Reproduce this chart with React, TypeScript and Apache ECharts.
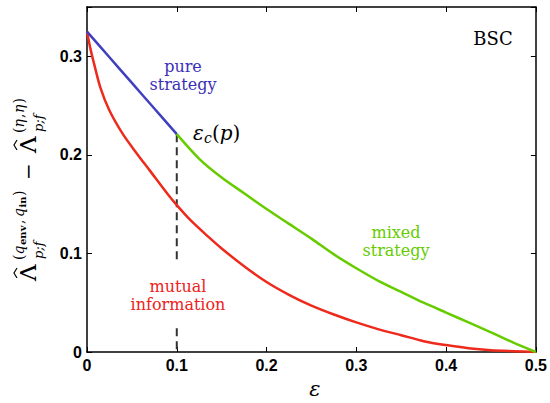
import React, { useEffect, useRef } from "react";
import * as echarts from "echarts";

// ---- data ----
const xTicks = [0, 0.1, 0.2, 0.3, 0.4, 0.5];
const yTicks = [0, 0.1, 0.2, 0.3];

const blueEps = [0, 0.025, 0.05, 0.075, 0.1];
const blueVal = [0.325, 0.299, 0.273, 0.247, 0.221];

const greenEps = [0.1, 0.125, 0.15, 0.175, 0.2, 0.225, 0.25, 0.275, 0.3, 0.325, 0.35, 0.375, 0.4, 0.425, 0.45, 0.475, 0.5];
const greenVal = [0.221, 0.196, 0.177, 0.161, 0.145, 0.13, 0.115, 0.099, 0.085, 0.072, 0.061, 0.05, 0.04, 0.03, 0.02, 0.0095, 0];

const redEps = [0, 0.004, 0.008, 0.015, 0.025, 0.04, 0.055, 0.07, 0.09, 0.1, 0.115, 0.135, 0.15, 0.175, 0.2, 0.225, 0.25, 0.275, 0.3, 0.325, 0.35, 0.375, 0.4, 0.425, 0.45, 0.475, 0.5];
const redVal = [0.325, 0.307, 0.292, 0.268, 0.245, 0.221, 0.202, 0.184, 0.16, 0.149, 0.134, 0.117, 0.105, 0.087, 0.071, 0.058, 0.047, 0.038, 0.03, 0.023, 0.017, 0.011, 0.007, 0.0038, 0.0018, 0.0008, 0];

const dashEps = [0.1, 0.1, 0.1, 0.1, 0.1];
const dashVal: (number | string)[] = [0.221, 0.093, "-", 0.024, 0];

const zip = (a: number[], b: (number | string)[]) => a.map((v, i) => [v, b[i]]);

const SERIF = "DejaVu Serif";
const SANS = "Liberation Sans";

function txt(x: number, y: number, text: string, opts: any = {}) {
  return {
    type: "text",
    x,
    y,
    silent: true,
    style: {
      text,
      fontFamily: SERIF,
      fontSize: opts.size || 14,
      fontStyle: opts.italic ? "italic" : "normal",
      fontWeight: opts.bold ? "bold" : "normal",
      fill: opts.color || "#000",
      align: opts.align || "left",
      verticalAlign: "middle",
      lineHeight: opts.lineHeight,
    },
  };
}

function hat(cx: number, y: number) {
  return {
    type: "polyline",
    silent: true,
    shape: { points: [[cx - 5, y + 3], [cx, y], [cx + 5, y + 3]] },
    style: { stroke: "#000", lineWidth: 1.2, fill: "none" },
  };
}

export default function App() {
  const ref = useRef<HTMLDivElement>(null);
  useEffect(() => {
    if (!ref.current) return;
    const chart = echarts.init(ref.current, null, { renderer: "svg" });
    const axisCommon = {
      type: "value",
      axisLine: { show: true, onZero: false, lineStyle: { color: "#000", width: 1.5 } },
      axisTick: { show: true, inside: true, length: 5, lineStyle: { color: "#000", width: 1 } },
      splitLine: { show: false },
    };
    const labelStyle = {
      fontFamily: SANS,
      fontWeight: "bold",
      fontSize: 16,
      color: "#000",
    };
    const fmt = (v: number) => (v === 0 ? "0" : v.toFixed(1));

    const yLabelGroup = {
      type: "group",
      x: 28,
      y: 284,
      rotation: Math.PI / 2,
      children: [
        txt(3, 0, "Λ", { size: 23 }),
        hat(11, -14),
        txt(25, 10, "p;f", { size: 13, italic: true }),
        txt(24, -9.5, "(", { size: 14 }),
        txt(29.5, -9.5, "q", { size: 14, italic: true }),
        txt(39, -6, "env", { size: 10, bold: true }),
        txt(60, -9.5, ",", { size: 14 }),
        txt(67, -9.5, "q", { size: 14, italic: true }),
        txt(76.5, -6, "in", { size: 10, bold: true }),
        txt(88, -9.5, ")", { size: 14 }),
        txt(104, 0, "−", { size: 20 }),
        txt(131, 0, "Λ", { size: 23 }),
        hat(139, -14),
        txt(152, 10, "p;f", { size: 13, italic: true }),
        txt(151, -9.5, "(", { size: 14 }),
        txt(156.5, -9.5, "η", { size: 14, italic: true }),
        txt(166, -9.5, ",", { size: 14 }),
        txt(171, -9.5, "η", { size: 14, italic: true }),
        txt(180.5, -9.5, ")", { size: 14 }),
      ],
    };

    const lineSeries = (eps: number[], val: number[], color: string) => ({
      type: "line",
      data: zip(eps, val),
      showSymbol: false,
      smooth: 0.3,
      lineStyle: { color, width: 2.5 },
      z: 3,
    });

    const option: any = {
      animation: false,
      backgroundColor: "#fff",
      grid: { left: 87, right: 11, top: 7, bottom: 51, containLabel: false },
      xAxis: [
        {
          ...axisCommon,
          min: xTicks[0],
          max: xTicks[xTicks.length - 1],
          interval: 0.1,
          position: "bottom",
          axisLabel: { ...labelStyle, margin: 5, formatter: fmt },
        },
        {
          ...axisCommon,
          min: xTicks[0],
          max: xTicks[xTicks.length - 1],
          interval: 0.1,
          position: "top",
          axisLabel: { show: false },
        },
      ],
      yAxis: [
        {
          ...axisCommon,
          min: 0,
          max: 0.35,
          interval: 0.1,
          position: "left",
          axisLabel: {
            ...labelStyle,
            margin: 5,
            formatter: (v: number) => (yTicks.some((t) => Math.abs(t - v) < 1e-9) ? fmt(v) : ""),
          },
        },
        {
          ...axisCommon,
          min: 0,
          max: 0.35,
          interval: 0.1,
          position: "right",
          axisLabel: { show: false },
        },
      ],
      series: [
        lineSeries(redEps, redVal, "#ee2a1c"),
        lineSeries(blueEps, blueVal, "#3f3fc0"),
        lineSeries(greenEps, greenVal, "#66cc00"),
        {
          type: "line",
          data: zip(dashEps, dashVal),
          showSymbol: false,
          connectNulls: false,
          lineStyle: { color: "#333", width: 2, type: [8, 5] },
          z: 2,
        },
      ],
      graphic: [
        txt(183, 75, "pure\nstrategy", { size: 16, color: "#3a30b8", align: "center", lineHeight: 18 }),
        txt(396, 241, "mixed\nstrategy", { size: 16, color: "#66cc00", align: "center", lineHeight: 18 }),
        txt(178, 295, "mutual\ninformation", { size: 16, color: "#ee2222", align: "center", lineHeight: 18 }),
        txt(493, 38, "BSC", { size: 18, align: "center" }),
        txt(193, 133, "ε", { size: 20, italic: true }),
        txt(204, 138, "c", { size: 14, italic: true }),
        {
          type: "text",
          x: 212,
          y: 133,
          silent: true,
          style: {
            text: "{u|(}{i|p}{u|)}",
            fill: "#000",
            verticalAlign: "middle",
            rich: {
              u: { fontFamily: SERIF, fontSize: 20, fill: "#000" },
              i: { fontFamily: SERIF, fontSize: 20, fontStyle: "italic", fill: "#000" },
            },
          },
        },
        txt(315, 389, "ε", { size: 21, italic: true, align: "center" }),
        yLabelGroup,
      ],
    };
    chart.setOption(option);
    return () => chart.dispose();
  }, []);
  return (
    <div
      ref={ref}
      style={{ position: "fixed", left: 0, top: 0, width: 550, height: 403, background: "#fff" }}
    />
  );
}
